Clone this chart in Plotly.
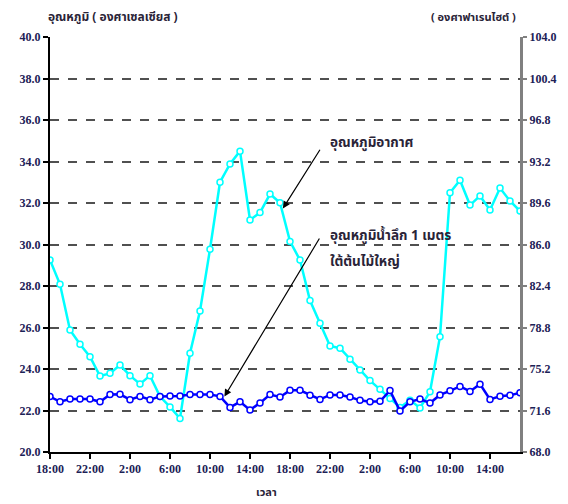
import plotly.graph_objects as go

hours = list(range(48))
tick_pos = [0, 4, 8, 12, 16, 20, 24, 28, 32, 36, 40, 44]
tick_labels = ["18:00", "22:00", "2:00", "6:00", "10:00", "14:00",
               "18:00", "22:00", "2:00", "6:00", "10:00", "14:00"]

air_temp = [29.25, 28.08, 25.88, 25.19, 24.59, 23.66, 23.79, 24.19, 23.68, 23.28,
            23.68, 22.67, 22.17, 21.62, 24.76, 26.80, 29.77, 33.00, 33.88, 34.50,
            31.18, 31.54, 32.43, 32.01, 30.15, 29.25, 27.30, 26.20, 25.11, 25.00,
            24.47, 23.95, 23.44, 23.02, 22.58, 22.15, 22.50, 22.12, 22.90, 25.56,
            32.50, 33.10, 31.90, 32.34, 31.66, 32.72, 32.10, 31.61]

soil_temp = [22.67, 22.42, 22.55, 22.55, 22.55, 22.42, 22.77, 22.78, 22.52, 22.68,
             22.52, 22.68, 22.70, 22.70, 22.77, 22.77, 22.77, 22.68, 22.15, 22.42,
             22.03, 22.36, 22.77, 22.65, 22.97, 22.97, 22.73, 22.53, 22.75, 22.75,
             22.65, 22.49, 22.42, 22.44, 22.96, 21.98, 22.42, 22.55, 22.36, 22.75,
             22.95, 23.16, 22.92, 23.27, 22.53, 22.69, 22.73, 22.86]

c_ticks = [20, 22, 24, 26, 28, 30, 32, 34, 36, 38, 40]
f_ticks = [68.0, 71.6, 75.2, 78.8, 82.4, 86.0, 89.6, 93.2, 96.8, 100.4, 104.0]

label_font = dict(family="Liberation Serif, Times New Roman, serif", size=12,
                  color="#1c2156", weight="bold")
thai_font = "Tahoma, Noto Sans Thai, Liberation Sans, sans-serif"
text_color = "#2a2438"

fig = go.Figure()
fig.add_trace(go.Scatter(
    x=hours, y=air_temp, mode="lines+markers",
    line=dict(color="#00FFFF", width=2.5),
    marker=dict(symbol="circle", size=6, color="white",
                line=dict(color="#00FFFF", width=1.5)),
    showlegend=False, hoverinfo="skip"))
fig.add_trace(go.Scatter(
    x=hours, y=soil_temp, mode="lines+markers",
    line=dict(color="#0000FF", width=2.5),
    marker=dict(symbol="circle", size=6, color="white",
                line=dict(color="#0000FF", width=1.5)),
    showlegend=False, hoverinfo="skip"))
# invisible trace on the Fahrenheit axis
fig.add_trace(go.Scatter(
    x=hours, y=[t * 9 / 5 + 32 for t in air_temp], mode="lines",
    line=dict(width=0, color="rgba(0,0,0,0)"), yaxis="y2",
    showlegend=False, hoverinfo="skip"))

# the page body adds an 8px offset; the figure is sized to compensate
fig.update_layout(
    width=560, height=496,
    margin=dict(l=38, r=35, t=29, b=52),
    paper_bgcolor="white", plot_bgcolor="white",
    xaxis=dict(
        range=[0, 47], tickmode="array", tickvals=tick_pos,
        ticktext=[f"<b>{t}</b>" for t in tick_labels],
        showgrid=False, zeroline=False,
        showline=True, linecolor="black", linewidth=2,
        ticks="outside", ticklen=5, tickwidth=2, tickcolor="black",
        tickfont=label_font),
    yaxis=dict(
        range=[20, 40], tickmode="array", tickvals=c_ticks,
        ticktext=[f"<b>{v:.1f}</b>" for v in c_ticks],
        showgrid=True, gridcolor="#505050", gridwidth=1.5, griddash="dash",
        zeroline=False, showline=True, linecolor="black", linewidth=2,
        ticks="outside", ticklen=5, tickwidth=2, tickcolor="black",
        tickfont=label_font),
    yaxis2=dict(
        range=[68, 104], overlaying="y", side="right", tickmode="array",
        tickvals=f_ticks, ticktext=[f"<b>{v:.1f}</b>" for v in f_ticks],
        showgrid=False, zeroline=False,
        showline=True, linecolor="#808080", linewidth=3,
        ticks="outside", ticklen=4, tickwidth=2, tickcolor="#808080",
        tickfont=label_font),
)

annotations = [
    dict(text="<b>อุณหภูมิ ( องศาเซลเซียส )</b>", xref="paper", yref="paper",
         x=-0.008, y=1.0, yshift=20, xanchor="left", yanchor="middle",
         showarrow=False, font=dict(family=thai_font, size=12, color=text_color)),
    dict(text="<b>( องศาฟาเรนไฮต์ )</b>", xref="paper", yref="paper",
         x=0.995, y=1.0, yshift=20, xanchor="right", yanchor="middle",
         showarrow=False, font=dict(family=thai_font, size=11, color=text_color)),
    dict(text="<b>เวลา</b>", xref="paper", yref="paper",
         x=0.46, y=-0.097, xanchor="center", yanchor="middle",
         showarrow=False, font=dict(family=thai_font, size=11, color=text_color)),
    dict(text="<b>อุณหภูมิอากาศ</b>", xref="x", yref="y", x=27.8, y=34.89,
         xanchor="left", yanchor="middle", showarrow=False,
         font=dict(family=thai_font, size=13.5, color=text_color)),
    dict(text="<b>อุณหภูมิน้ำลึก 1 เมตร</b>", xref="x", yref="y", x=27.8, y=30.41,
         xanchor="left", yanchor="middle", showarrow=False,
         font=dict(family=thai_font, size=13.5, color=text_color)),
    dict(text="<b>ใต้ต้นไม้ใหญ่</b>", xref="x", yref="y", x=27.8, y=29.16,
         xanchor="left", yanchor="middle", showarrow=False,
         font=dict(family=thai_font, size=13.5, color=text_color)),
    dict(text="", xref="x", yref="y", x=23.29, y=31.74,
         axref="x", ayref="y", ax=27.09, ay=34.64,
         showarrow=True, arrowhead=2, arrowsize=1.2, arrowwidth=1.2,
         arrowcolor="black"),
    dict(text="", xref="x", yref="y", x=17.44, y=22.67,
         axref="x", ayref="y", ax=27.03, ay=30.36,
         showarrow=True, arrowhead=2, arrowsize=1.2, arrowwidth=1.2,
         arrowcolor="black"),
]
fig.update_layout(annotations=annotations)

fig.write_html("out.html")
